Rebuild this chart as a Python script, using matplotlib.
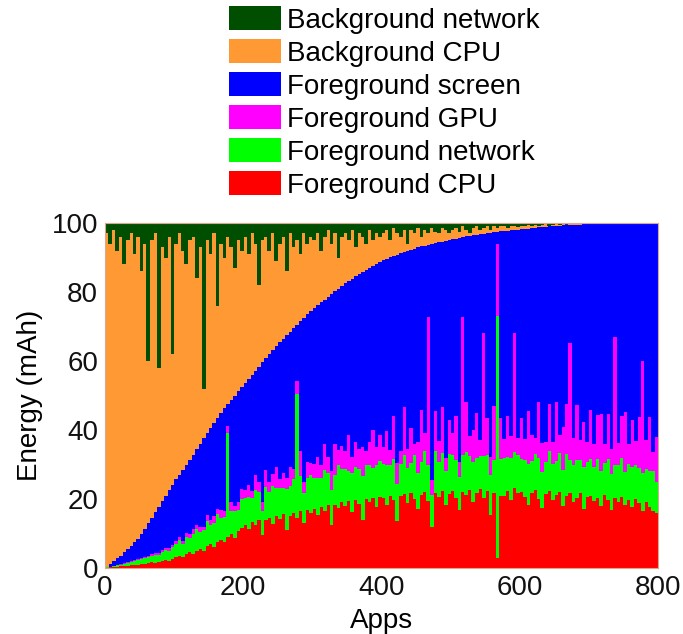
import numpy as np
import matplotlib
matplotlib.use("Agg")
import matplotlib.pyplot as plt
from matplotlib.patches import Patch

plt.rcParams["font.family"] = ["Liberation Sans", "DejaVu Sans"]

# apps are sorted by foreground share; one bar covers 5 apps
bin_width = 5

# top of the foreground stack (= fg CPU + fg net + fg GPU + fg screen), %
fg_total = [
    0.4, 1.2, 2, 2.8, 3.6, 4.5, 5.5, 6.5, 7.5, 8.5, 9.8, 11.4, 13, 14.6, 16.2, 17.8, 19.4, 21, 22.6, 24.2,
    25.7, 27.1, 28.5, 29.9, 31.3, 32.8, 34.4, 36, 37.6, 39.2, 40.7, 42.1, 43.5, 44.9, 46.3, 47.6, 48.8, 50, 51.2, 52.4,
    53.6, 54.8, 56, 57.2, 58.4, 59.6, 60.8, 62, 63.2, 64.4, 65.5, 66.5, 67.5, 68.5, 69.5, 70.5, 71.5, 72.5, 73.5, 74.5,
    75.4, 76.2, 77, 77.8, 78.6, 79.4, 80.2, 81, 81.8, 82.6, 83.3, 83.9, 84.5, 85.1, 85.7, 86.3, 86.9, 87.5, 88.1, 88.7,
    89.3, 89.7, 90.1, 90.5, 90.8, 91.2, 91.6, 91.9, 92.3, 92.6, 92.9, 93.2, 93.4, 93.7, 93.9, 94.1, 94.4, 94.6, 94.9, 95.1,
    95.3, 95.5, 95.7, 95.9, 96.1, 96.3, 96.5, 96.6, 96.8, 96.9, 97.1, 97.2, 97.4, 97.5, 97.6, 97.7, 97.8, 97.9, 98, 98.1,
    98.2, 98.3, 98.4, 98.5, 98.6, 98.7, 98.8, 98.9, 99, 99.1, 99.1, 99.2, 99.3, 99.3, 99.4, 99.4, 99.5, 99.5, 99.6, 99.6,
    99.7, 99.7, 99.7, 99.8, 99.8, 99.8, 99.9, 99.9, 99.9, 99.9, 100, 100, 100, 100, 100, 100, 100, 100, 100, 100,
]

fg_cpu = [
    0.1, 0.2, 0.3, 0.4, 0.5, 0.6, 0.7, 0.8, 0.9, 1.0, 1.1, 1.2, 1.4, 1.6, 1.5, 1.8, 2.0, 2.2, 2.1, 2.6,
    3.2, 3.6, 3.3, 4.0, 4.6, 4.2, 5.0, 5.6, 5.0, 6.4, 7.0, 6.2, 7.6, 8.2, 7.4, 9.0, 9.8, 8.6, 10.8, 11.6,
    12.6, 11.2, 13.4, 12.4, 14.0, 9.5, 13.8, 14.6, 12.8, 15.0, 14.2, 15.6, 11.0, 15.2, 16.0, 14.4, 16.4, 13.0, 16.8, 15.8,
    17.2, 15.4, 17.8, 16.6, 18.2, 12.5, 18.4, 17.4, 19.0, 18.0, 19.4, 16.2, 19.8, 18.6, 14.0, 20.0, 19.0, 20.4, 17.6, 20.6,
    20.2, 18.4, 21.0, 19.6, 13.5, 20.8, 21.4, 18.8, 21.6, 20.0, 17.0, 21.2, 22.0, 19.4, 12.0, 21.8, 20.6, 22.2, 18.2, 21.4,
    22.4, 20.2, 16.8, 22.0, 21.2, 22.6, 19.0, 21.6, 23.0, 20.4, 22.2, 15.5, 21.8, 3.0, 21.0, 21.0, 22.4, 19.8, 23.2, 21.6,
    22.0, 20.6, 18.4, 21.8, 22.6, 20.0, 17.5, 21.4, 22.4, 19.6, 21.2, 22.0, 18.0, 20.8, 21.6, 19.2, 20.4, 21.8, 17.2, 20.6,
    21.0, 19.4, 20.2, 18.0, 21.2, 19.8, 16.8, 20.4, 19.0, 20.6, 18.4, 19.6, 17.6, 20.0, 18.8, 16.4, 19.2, 17.8, 16.6, 16.0,
]

fg_net = [
    0.1, 0.2, 0.3, 0.4, 0.5, 0.6, 0.8, 0.9, 1.0, 1.2, 1.4, 1.6, 1.8, 2.0, 2.3, 2.0, 2.6, 3.0, 2.8, 3.4,
    3.8, 4.4, 3.6, 5.0, 4.2, 5.6, 6.4, 4.8, 6.0, 7.2, 5.4, 6.8, 8.0, 6.2, 7.4, 30.0, 6.6, 7.8, 6.0, 8.4,
    7.6, 9.4, 6.8, 10.2, 8.0, 7.0, 9.6, 7.4, 11.0, 8.2, 9.0, 7.6, 12.0, 8.6, 9.8, 36.0, 10.4, 8.8, 9.4, 11.2,
    9.0, 10.6, 8.4, 11.8, 9.2, 10.0, 8.6, 12.4, 9.6, 10.8, 8.8, 11.4, 9.4, 10.2, 12.6, 9.8, 11.0, 8.6, 12.2, 10.4,
    10.0, 11.6, 9.0, 12.0, 10.8, 9.4, 11.4, 10.2, 8.8, 12.8, 10.6, 9.6, 11.8, 10.4, 9.2, 12.2, 10.0, 11.0, 9.8, 11.6,
    10.4, 11.2, 9.6, 10.8, 12.4, 9.8, 11.6, 10.2, 9.4, 12.0, 10.6, 11.4, 9.6, 70.0, 10.6, 11.0, 9.8, 12.2, 10.4, 11.2,
    9.6, 10.8, 11.8, 9.2, 10.4, 12.0, 10.2, 9.4, 11.4, 10.6, 9.8, 11.2, 10.4, 12.2, 9.6, 10.8, 11.0, 9.4, 12.0, 10.2,
    10.6, 9.8, 11.4, 10.0, 9.2, 11.8, 10.4, 9.6, 10.8, 11.2, 9.4, 10.6, 11.6, 9.8, 10.2, 11.0, 9.6, 10.4, 11.4, 9.0,
]

fg_gpu = [
    0.0, 0.0, 0.1, 0.1, 0.1, 0.2, 0.2, 0.2, 0.3, 0.3, 0.3, 0.4, 0.4, 0.5, 0.5, 0.6, 0.6, 0.7, 0.8, 0.8,
    0.9, 1.0, 0.8, 1.2, 1.0, 1.4, 1.2, 1.6, 1.0, 1.8, 1.4, 2.0, 1.6, 2.4, 1.8, 2.2, 2.8, 1.6, 2.4, 3.0,
    2.4, 3.6, 2.0, 4.4, 3.0, 2.6, 5.0, 2.8, 3.4, 6.0, 2.6, 4.2, 3.2, 5.4, 2.8, 3.8, 7.0, 3.0, 4.6, 3.4,
    4.0, 6.2, 3.6, 7.4, 4.8, 5.6, 9.0, 4.4, 6.8, 5.0, 10.4, 4.6, 7.2, 5.8, 8.6, 4.2, 6.4, 11.0, 5.2, 7.6,
    5.0, 9.6, 4.2, 12.4, 6.0, 3.6, 14.0, 5.6, 10.2, 3.2, 9.0, 15.0, 5.4, 43.0, 4.4, 11.6, 6.2, 13.4, 4.0, 9.8,
    6.4, 12.6, 4.2, 40.0, 14.6, 5.8, 9.4, 13.0, 4.8, 35.6, 10.6, 5.2, 15.6, 21.0, 12.0, 5.4, 11.8, 6.2, 34.4, 5.0,
    12.0, 6.0, 15.4, 7.6, 4.8, 16.2, 8.4, 5.6, 13.8, 6.2, 17.0, 5.4, 12.6, 14.4, 34.0, 7.8, 15.8, 6.0, 13.2, 5.8,
    14.2, 6.6, 12.8, 16.6, 5.4, 13.0, 7.2, 37.0, 6.4, 12.2, 17.4, 5.8, 13.6, 7.0, 14.8, 32.6, 8.4, 15.6, 5.6, 13.0,
]

bg_net = [
    3, 6, 2, 8, 4, 12, 5, 3, 9, 4, 14, 6, 40, 5, 3, 42, 7, 10, 4, 38,
    6, 3, 8, 12, 5, 4, 16, 7, 48, 5, 9, 3, 24, 6, 10, 4, 7, 13, 5, 8,
    4, 9, 3, 6, 18, 5, 4, 8, 3, 11, 6, 4, 14, 3, 7, 5, 9, 3, 6, 4,
    5, 3, 8, 4, 2, 6, 3, 10, 4, 3, 5, 2, 7, 3, 4, 6, 2, 5, 3, 4,
    3, 2, 5, 1.5, 3, 4, 2, 6, 2, 3, 1.5, 4, 2, 3, 1.5, 2.5, 3, 1.5, 2, 3,
    2, 1.5, 2.5, 1, 2, 3, 1.5, 1, 2, 1.5, 1, 2, 1, 1.5, 1, 0.8, 1.5, 1, 0.8, 1.2,
    0.8, 1, 0.6, 0.8, 0.5, 1, 0.6, 0.4, 0.8, 0.5, 0.4, 0.6, 0.3, 0.5, 0.4, 0.3, 0.4, 0.2, 0.3, 0.2,
    0.2, 0.3, 0.2, 0.1, 0.2, 0.1, 0.1, 0.1, 0.1, 0.05, 0, 0, 0, 0, 0, 0, 0, 0, 0, 0,
]

labels = ["Background network", "Background CPU", "Foreground screen",
          "Foreground GPU", "Foreground network", "Foreground CPU"]
colors = ["#004f00", "#ff9933", "#0000ff", "#ff00ff", "#00ff00", "#ff0000"]

fg_total = np.array(fg_total)
fg_cpu = np.array(fg_cpu)
fg_net = np.array(fg_net)
fg_gpu = np.array(fg_gpu)
fg_screen = np.clip(fg_total - fg_cpu - fg_net - fg_gpu, 0, None)
bg_net = np.minimum(np.array(bg_net), 100 - fg_total)
bg_cpu = 100 - fg_total - bg_net

x = np.arange(len(fg_total)) * bin_width

fig = plt.figure(figsize=(6.83, 6.34), dpi=100)
ax = fig.add_axes([105 / 683, 66 / 634, 553 / 683, 345 / 634])

# bottom to top, same order as the original stack
layers = [fg_cpu, fg_net, fg_gpu, fg_screen, bg_cpu, bg_net]
layer_colors = colors[::-1]
bottom = np.zeros_like(fg_total)
for vals, col in zip(layers, layer_colors):
    # slight overlap so no white seams appear between neighbouring bars
    ax.bar(x, vals, width=bin_width + 0.5, bottom=bottom, align="edge",
           color=col, linewidth=0)
    bottom = bottom + vals

ax.set_xlim(0, 800)
ax.set_ylim(0, 100)
ax.set_xticks([0, 200, 400, 600, 800])
ax.set_yticks([0, 20, 40, 60, 80, 100])
ax.tick_params(length=0, labelsize=20, pad=5, colors="#111111")
for sp in ax.spines.values():
    sp.set_color("#d8a890")
    sp.set_linewidth(0.8)
ax.set_xlabel("Apps", fontsize=20, labelpad=5)
ax.set_ylabel("Energy (mAh)", fontsize=20, labelpad=6)

handles = [Patch(facecolor=c, edgecolor="none") for c in colors]
fig.legend(handles, labels, loc="upper left", bbox_to_anchor=(229 / 683, 1 - 6 / 634),
           frameon=False, fontsize=20, handlelength=1.87, handleheight=0.97,
           handletextpad=0.22, labelspacing=0.19, borderpad=0, borderaxespad=0)

fig.savefig("out.png", dpi=100)
